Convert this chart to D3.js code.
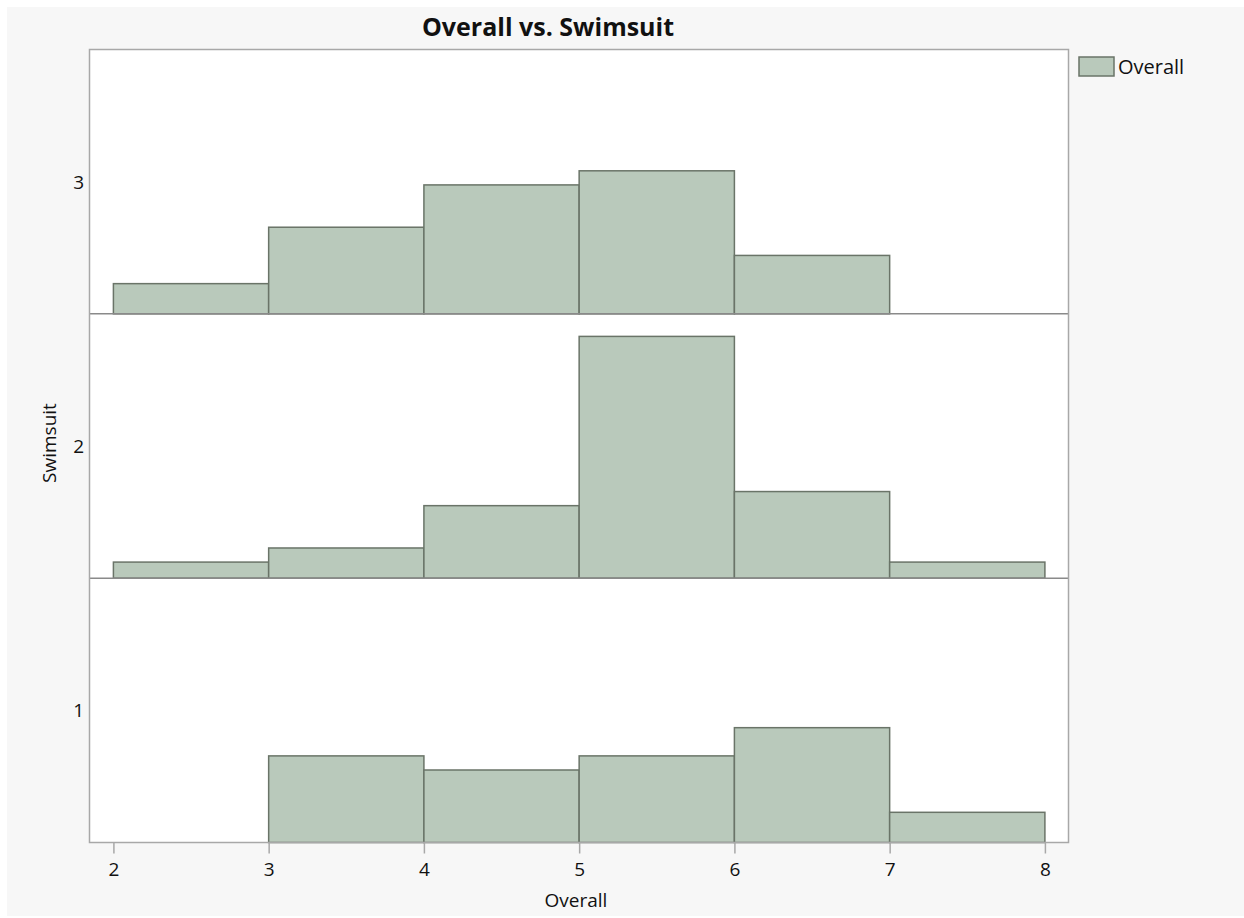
<!DOCTYPE html>
<html>
<head>
<meta charset="utf-8">
<script src="https://cdn.jsdelivr.net/npm/d3@7"></script>
<style>
  html, body { margin: 0; padding: 0; background: #ffffff; }
  svg { display: block; }
  text { font-family: "Open Sans", "Noto Sans", sans-serif; fill: #111; }
</style>
</head>
<body>
<div id="chart"></div>
<script>
// ---- data ----
const binEdges = [2, 3, 4, 5, 6, 7, 8];
const swimsuitLevels = ["3", "2", "1"];          // top to bottom
const countsSwimsuit3 = [2, 6, 9, 10, 4, 0];
const countsSwimsuit2 = [1, 2, 5, 17, 6, 1];
const countsSwimsuit1 = [0, 6, 5, 6, 8, 2];
const xTickValues = [2, 3, 4, 5, 6, 7, 8];
const chartTitle = "Overall vs. Swimsuit";
const xLabel = "Overall";
const yLabel = "Swimsuit";
const legendLabel = "Overall";

const panelCounts = [countsSwimsuit3, countsSwimsuit2, countsSwimsuit1];

// ---- layout ----
const W = 1244, H = 918;
const plotL = 89.5, plotR = 1068.5, plotT = 49.5, plotB = 842.5;
const panelH = (plotB - plotT) / swimsuitLevels.length;
const fillColor = "#b9c9bb";
const strokeColor = "#6a7468";
const fontSize = "19px";

const svg = d3.select("#chart").append("svg")
  .attr("width", W).attr("height", H);

// background
svg.append("rect").attr("x", 7).attr("y", 7).attr("width", W - 7).attr("height", H - 9)
  .attr("fill", "#f7f7f7");

// plot area
svg.append("rect").attr("x", plotL).attr("y", plotT)
  .attr("width", plotR - plotL).attr("height", plotB - plotT)
  .attr("fill", "#ffffff");

const x = d3.scaleLinear().domain([1.846, 8.152]).range([plotL, plotR]);

// panels
swimsuitLevels.forEach((lvl, i) => {
  const top = plotT + i * panelH;
  const bottom = top + panelH;
  const y = d3.scaleLinear().domain([-0.14, 18.6]).range([bottom, top]);
  const bins = d3.range(binEdges.length - 1).map(j => ({
    x0: binEdges[j], x1: binEdges[j + 1], n: panelCounts[i][j]
  })).filter(d => d.n > 0);

  const g = svg.append("g");
  g.selectAll("rect").data(bins).join("rect")
    .attr("x", d => x(d.x0))
    .attr("width", d => x(d.x1) - x(d.x0))
    .attr("y", d => y(d.n))
    .attr("height", d => y.range()[0] - y(d.n))
    .attr("fill", fillColor)
    .attr("stroke", strokeColor)
    .attr("stroke-width", 1.5);

  // level label
  svg.append("text")
    .attr("x", 84).attr("y", (top + bottom) / 2)
    .attr("text-anchor", "end").attr("dominant-baseline", "central")
    .style("font-size", fontSize)
    .text(lvl);

  // separator line
  if (i < swimsuitLevels.length - 1) {
    svg.append("line")
      .attr("x1", plotL).attr("x2", plotR)
      .attr("y1", bottom).attr("y2", bottom)
      .attr("stroke", "#8a8a8a").attr("stroke-width", 1.5);
  }
});

// frame
svg.append("rect").attr("x", plotL).attr("y", plotT)
  .attr("width", plotR - plotL).attr("height", plotB - plotT)
  .attr("fill", "none").attr("stroke", "#a8a8a8").attr("stroke-width", 1.5);

// x axis
const xAxis = d3.axisBottom(x).tickValues(xTickValues).tickSize(11).tickSizeOuter(0).tickPadding(9)
  .tickFormat(d3.format("d"));
const ax = svg.append("g").attr("transform", `translate(0,${plotB})`).call(xAxis);
ax.select(".domain").remove();
ax.selectAll(".tick line").attr("stroke", "#a8a8a8").attr("stroke-width", 1.5);
ax.selectAll(".tick text").style("font-size", fontSize).attr("fill", "#111")
  .style("font-family", "\"Open Sans\", \"Noto Sans\", sans-serif");

// axis labels
svg.append("text").attr("x", 576).attr("y", 907)
  .attr("text-anchor", "middle").style("font-size", fontSize).text(xLabel);

svg.append("text")
  .attr("transform", `translate(56,443) rotate(-90)`)
  .attr("text-anchor", "middle").style("font-size", fontSize).text(yLabel);

// title
svg.append("text").attr("x", 548).attr("y", 36)
  .attr("text-anchor", "middle").style("font-size", "25px").style("font-weight", "bold")
  .text(chartTitle);

// legend
svg.append("rect").attr("x", 1079).attr("y", 57).attr("width", 35).attr("height", 19)
  .attr("fill", fillColor).attr("stroke", strokeColor).attr("stroke-width", 1.5);
svg.append("text").attr("x", 1118).attr("y", 74)
  .style("font-size", "20px").text(legendLabel);
</script>
</body>
</html>
